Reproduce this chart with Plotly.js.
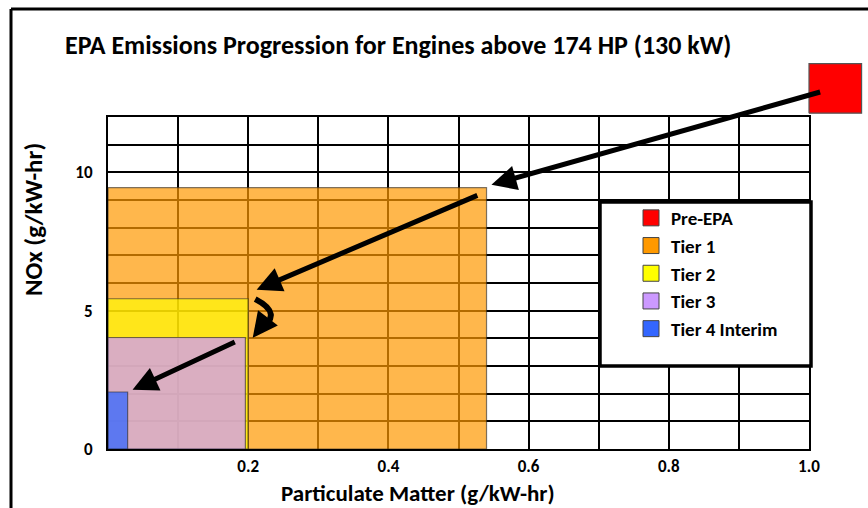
<!DOCTYPE html>
<html><head><meta charset="utf-8">
<script src="https://cdn.plot.ly/plotly-3.0.1.min.js"></script>
<style>html,body{margin:0;padding:0;background:#fff}#chart{width:868px;height:508px}</style>
</head><body><div id="chart"></div>
<script>
// ---- data ----
const tiers   = ['Pre-EPA', 'Tier 1', 'Tier 2', 'Tier 3', 'Tier 4 Interim'];
const pmLow   = [1.00, 0, 0, 0, 0];          // g/kW-hr
const pmHigh  = [1.075, 0.54, 0.20, 0.196, 0.028];
const noxLow  = [12.14, 0, 0, 0, 0];         // g/kW-hr
const noxHigh = [13.93, 9.45, 5.43, 4.03, 2.06];

const xTickVals = [0, 0.1, 0.2, 0.3, 0.4, 0.5, 0.6, 0.7, 0.8, 0.9, 1.0];
const xTickText = ['', '', '0.2', '', '0.4', '', '0.6', '', '0.8', '', '1.0'];
const yTickVals = [0, 1, 2, 3, 4, 5, 6, 7, 8, 9, 10, 11, 12];
const yTickText = ['0', '', '', '', '', '5', '', '', '', '', '10', '', ''];

// straight progression arrows: [tail PM, tail NOx, head PM, head NOx]
const arrowTailPM  = [1.018, 0.529, 0.183];
const arrowTailNOx = [12.92, 9.19, 3.89];
const arrowHeadPM  = [0.547, 0.212, 0.035];
const arrowHeadNOx = [9.55, 5.76, 2.14];
// curved arrow (Tier 2 -> Tier 3): start, control, end, tip
const curvePM  = [0.2100, 0.2520, 0.2150, 0.2064];
const curveNOx = [5.42, 4.87, 4.32, 4.02];

// ---- styles ----
const swatchColors = ['#FF0000', '#FF9900', '#FFFF00', '#CC99FF', '#3366FF'];
const fillColors = ['#FF0000', 'rgba(255,153,0,0.7)', 'rgba(255,255,0,0.66)',
                    'rgba(204,153,255,0.73)', 'rgba(51,102,255,0.75)'];
const FONT = 'Carlito, Lato, "Open Sans", sans-serif';

// geometry of the plot (pixels)
const W = 868, H = 508;
const M = {l: 108, r: 0, t: 50, b: 59};
const gridW = 701, gridH = 332;
const paperW = W - M.l - M.r, paperH = H - M.t - M.b;

const traces = [];
tiers.forEach((name, i) => {
  const outer = i === 0;
  traces.push({
    type: 'scatter', mode: 'lines', name: name, legendgroup: name, showlegend: false,
    x: [pmLow[i], pmHigh[i], pmHigh[i], pmLow[i], pmLow[i]],
    y: [noxLow[i], noxLow[i], noxHigh[i], noxHigh[i], noxLow[i]],
    fill: 'toself', fillcolor: fillColors[i],
    line: {color: outer ? '#555' : 'rgba(40,40,40,0.6)', width: 1.2},
    xaxis: outer ? 'x2' : 'x', yaxis: outer ? 'y2' : 'y',
    hoverinfo: 'skip'
  });
});
tiers.forEach((name, i) => {
  traces.push({
    type: 'scatter', mode: 'markers', name: name, legendgroup: name,
    x: [null], y: [null],
    marker: {symbol: 'square', size: 16, color: swatchColors[i], line: {color: '#444', width: 1}}
  });
});

const annotations = [
  {text: 'Particulate Matter (g/kW-hr)', xref: 'paper', yref: 'paper',
   x: (418 - M.l) / paperW, y: (H - M.b - 493) / paperH, xanchor: 'center', yanchor: 'middle',
   showarrow: false, font: {family: FONT, size: 23, weight: 700, color: '#000'}},
  {text: 'NOx (g/kW-hr)', xref: 'paper', yref: 'paper', textangle: -90,
   x: (33 - M.l) / paperW, y: (H - M.b - 220) / paperH, xanchor: 'center', yanchor: 'middle',
   showarrow: false, font: {family: FONT, size: 25, weight: 700, color: '#000'}}
];
arrowTailPM.forEach((_, i) => {
  annotations.push({
    x: arrowHeadPM[i], y: arrowHeadNOx[i], ax: arrowTailPM[i], ay: arrowTailNOx[i],
    xref: 'x', yref: 'y', axref: 'x', ayref: 'y', text: '', showarrow: true,
    arrowhead: 2, arrowsize: 1, arrowwidth: 5, arrowcolor: '#000', standoff: 0
  });
});
annotations.push({
  x: curvePM[3], y: curveNOx[3], ax: curvePM[2] + 0.002, ay: curveNOx[2] + 0.05,
  xref: 'x', yref: 'y', axref: 'x', ayref: 'y', text: '', showarrow: true,
  arrowhead: 2, arrowsize: 1, arrowwidth: 5, arrowcolor: '#000', standoff: 0
});

const px2x = p => (p - M.l) / paperW;
const px2y = p => (H - M.b - p) / paperH;

const shapes = [
  // curved arrow body
  {type: 'path', xref: 'x', yref: 'y', layer: 'above',
   path: `M ${curvePM[0]},${curveNOx[0]} Q ${curvePM[1]},${curveNOx[1]} ${curvePM[2]},${curveNOx[2]}`,
   line: {color: '#000', width: 6}, fillcolor: 'rgba(0,0,0,0)'},
  // legend box
  {type: 'rect', xref: 'paper', yref: 'paper', layer: 'above',
   x0: px2x(600), x1: px2x(811), y0: px2y(366), y1: px2y(202),
   line: {color: '#000', width: 3.5}, fillcolor: '#fff'},
  // outer frame lines
  {type: 'line', xref: 'paper', yref: 'paper', x0: px2x(11), x1: px2x(11), y0: px2y(9), y1: px2y(510),
   line: {color: '#000', width: 3}},
  {type: 'line', xref: 'paper', yref: 'paper', x0: px2x(11), x1: px2x(870), y0: px2y(9), y1: px2y(9),
   line: {color: '#000', width: 3}}
];

const axisCommon = {
  showgrid: true, gridcolor: '#000', gridwidth: 2, showline: true, linecolor: '#000',
  linewidth: 2, mirror: true, ticks: '', zeroline: false, fixedrange: true,
  tickmode: 'array', tickfont: {family: FONT, size: 17, weight: 700, color: '#000'}
};

const layout = {
  width: W, height: H, margin: M, paper_bgcolor: '#fff', plot_bgcolor: 'rgba(0,0,0,0)',
  title: {text: 'EPA Emissions Progression for Engines above 174 HP (130 kW)',
          font: {family: FONT, size: 26, weight: 700, color: '#000'},
          xref: 'container', yref: 'container', x: 65 / W, xanchor: 'left', y: 1 - 45 / H, yanchor: 'middle'},
  xaxis: Object.assign({}, axisCommon, {domain: [0, gridW / paperW], range: [0, 1], anchor: 'y',
          tickvals: xTickVals, ticktext: xTickText, ticklabelstandoff: 1}),
  yaxis: Object.assign({}, axisCommon, {domain: [0, gridH / paperH], range: [0, 12], anchor: 'x',
          tickvals: yTickVals, ticktext: yTickText, ticklabelstandoff: 10}),
  xaxis2: {domain: [0, 1], range: [0, paperW / gridW], anchor: 'y2', visible: false, fixedrange: true},
  yaxis2: {domain: [0, 1], range: [0, 12 * paperH / gridH], anchor: 'x2', visible: false, fixedrange: true},
  showlegend: true,
  legend: {x: px2x(631), y: px2y(199), xanchor: 'left', yanchor: 'top', bgcolor: 'rgba(0,0,0,0)',
           borderwidth: 0, tracegroupgap: 0, traceorder: 'grouped',
           font: {family: FONT, size: 19, weight: 700, color: '#000'}},
  annotations: annotations, shapes: shapes, hovermode: false
};

Plotly.newPlot('chart', traces, layout, {displayModeBar: false, staticPlot: true});
</script>
</body></html>
